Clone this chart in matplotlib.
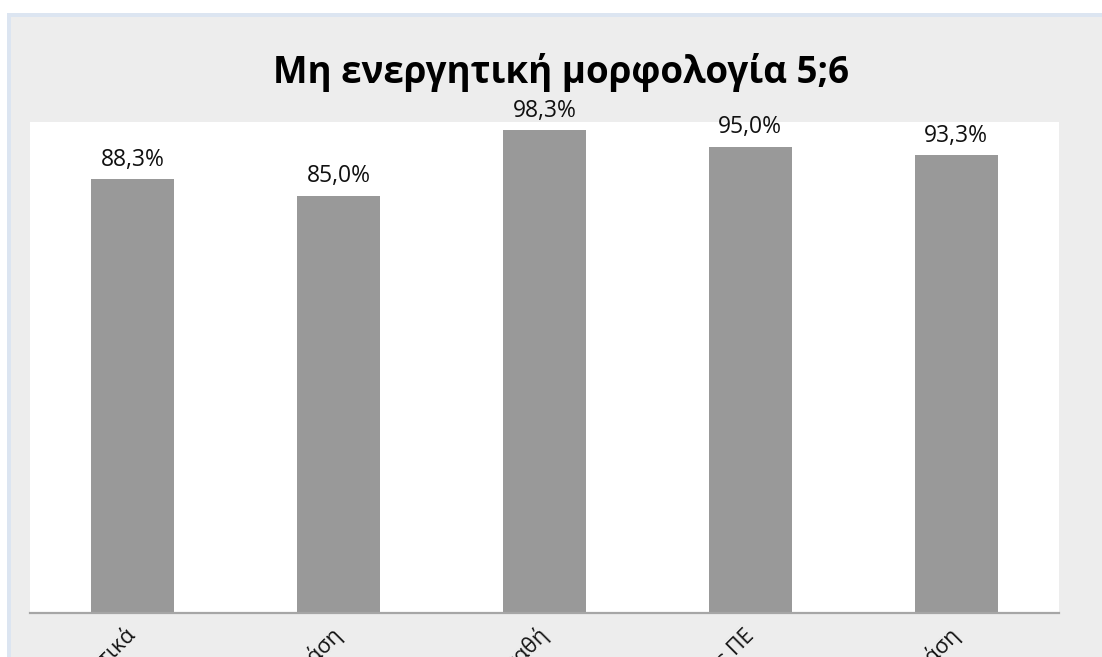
import matplotlib
matplotlib.use("Agg")
import matplotlib.pyplot as plt
from matplotlib.patches import Rectangle

plt.rcParams["font.family"] = ["Open Sans", "DejaVu Sans"]

# Data
title = "Μη ενεργητική μορφολογία 5;6"
categories = ["Αποθετικά", "Παθητική φράση", "Αυτοπαθή", "Παθητική με ΠΕ", "Αυτοπαθής φράση"]
values = [88.3, 85.0, 98.3, 95.0, 93.3]

W, H = 1102, 657
fig = plt.figure(figsize=(W / 100, H / 100), dpi=100, facecolor="white")

# Chart frame: thin light-blue border and grey chart background
fig.patches.append(Rectangle((7 / W, 0), 1, 1 - 13 / H, transform=fig.transFigure,
                             facecolor="#DCE5F1", edgecolor="none", zorder=-3))
fig.patches.append(Rectangle((11 / W, 0), 1, 1 - 17 / H, transform=fig.transFigure,
                             facecolor="#EDEDED", edgecolor="none", zorder=-2))

left, right = 30 / W, 1059 / W
bottom, top = 44 / H, 535 / H
ax = fig.add_axes([left, bottom, right - left, top - bottom])
ax.set_facecolor("white")

x = list(range(len(categories)))
bars = ax.bar(x, values, width=0.403, color="#999999", zorder=2)

ax.set_xlim(-0.5, len(categories) - 0.5)
ax.set_ylim(0, 100)

for xi, v in zip(x, values):
    ax.annotate(f"{v:.1f}%".replace(".", ","), xy=(xi, v), xytext=(0, 9.5),
                textcoords="offset points", ha="center", va="baseline",
                fontsize=16.5, color="#111111", annotation_clip=False)

ax.set_yticks([])
ax.set_xticks(x)
ax.set_xticklabels(categories, rotation=45, ha="right", va="center",
                   rotation_mode="anchor", fontsize=15.5, color="#111111")
ax.tick_params(axis="x", length=0, pad=14)

for side in ("top", "left", "right"):
    ax.spines[side].set_visible(False)
ax.spines["bottom"].set_color("#A6A6A6")
ax.spines["bottom"].set_linewidth(1.6)

fig.text(561 / W, 1 - 83 / H, title, ha="center", va="baseline",
         fontsize=26.5, fontweight="bold", color="#000000")

fig.savefig("out.png", dpi=100, facecolor=fig.get_facecolor())
